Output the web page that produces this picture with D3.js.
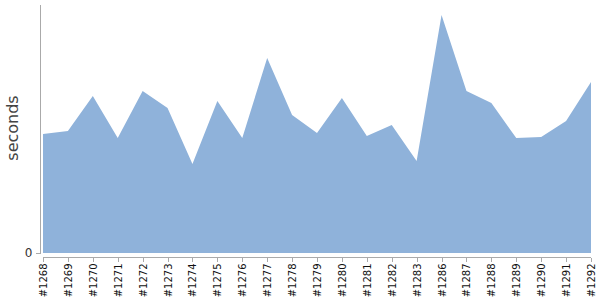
<!DOCTYPE html>
<html>
<head>
<meta charset="utf-8">
<script src="https://cdn.jsdelivr.net/npm/d3@7"></script>
<style>
  body { margin: 0; background: #fff; }
  svg { display: block; }
  svg text { font-family: "DejaVu Sans", Verdana, sans-serif; }
  .axis path, .axis line { stroke: #aaa; shape-rendering: crispEdges; }
  .axis text { fill: #111; }
</style>
</head>
<body>
<div id="chart"></div>
<script>
// builds and their durations (seconds)
var builds = ["#1268","#1269","#1270","#1271","#1272","#1273","#1274","#1275",
              "#1276","#1277","#1278","#1279","#1280","#1281","#1282","#1283",
              "#1286","#1287","#1288","#1289","#1290","#1291","#1292"];
var seconds = [119, 122, 157, 115, 162, 145, 89, 152,
               115, 195, 138, 120, 155, 117, 128, 92,
               238, 162, 150, 115, 116, 132, 171];
var yTicks = [0];

var width = 600, height = 300;

var svg = d3.select("#chart").append("svg")
    .attr("width", width)
    .attr("height", height);

var x = d3.scalePoint()
    .domain(builds)
    .range([43, 591]);

var y = d3.scaleLinear()
    .domain([0, 249])
    .range([253, 4]);

var data = builds.map(function(b, i) { return { build: b, value: seconds[i] }; });

var area = d3.area()
    .x(function(d) { return x(d.build); })
    .y0(y(0))
    .y1(function(d) { return y(d.value); });

svg.append("path")
    .datum(data)
    .attr("d", area)
    .style("fill", "#8fb2da");

// y axis, offset a bit left of the area
var yAxis = svg.append("g")
    .attr("class", "axis")
    .attr("transform", "translate(39.5,0)")
    .call(d3.axisLeft(y).tickValues(yTicks).tickSize(4).tickSizeOuter(0));
yAxis.selectAll("text").style("font-size", "12px").style("fill", "#333").attr("dy", "0.3em");

// x axis, offset below the area
var xAxis = svg.append("g")
    .attr("class", "axis")
    .attr("transform", "translate(0,257.5)")
    .call(d3.axisBottom(x).tickSize(4).tickSizeOuter(0));
xAxis.select(".domain").attr("d", "M43,0H591");
xAxis.selectAll("text")
    .style("font-size", "10px")
    .style("text-anchor", "end")
    .attr("transform", "rotate(-90)")
    .attr("x", -6)
    .attr("y", 0)
    .attr("dy", "0.35em");

svg.append("text")
    .attr("transform", "translate(18,128) rotate(-90)")
    .attr("text-anchor", "middle")
    .style("font-size", "16px")
    .style("fill", "#444")
    .text("seconds");
</script>
</body>
</html>
